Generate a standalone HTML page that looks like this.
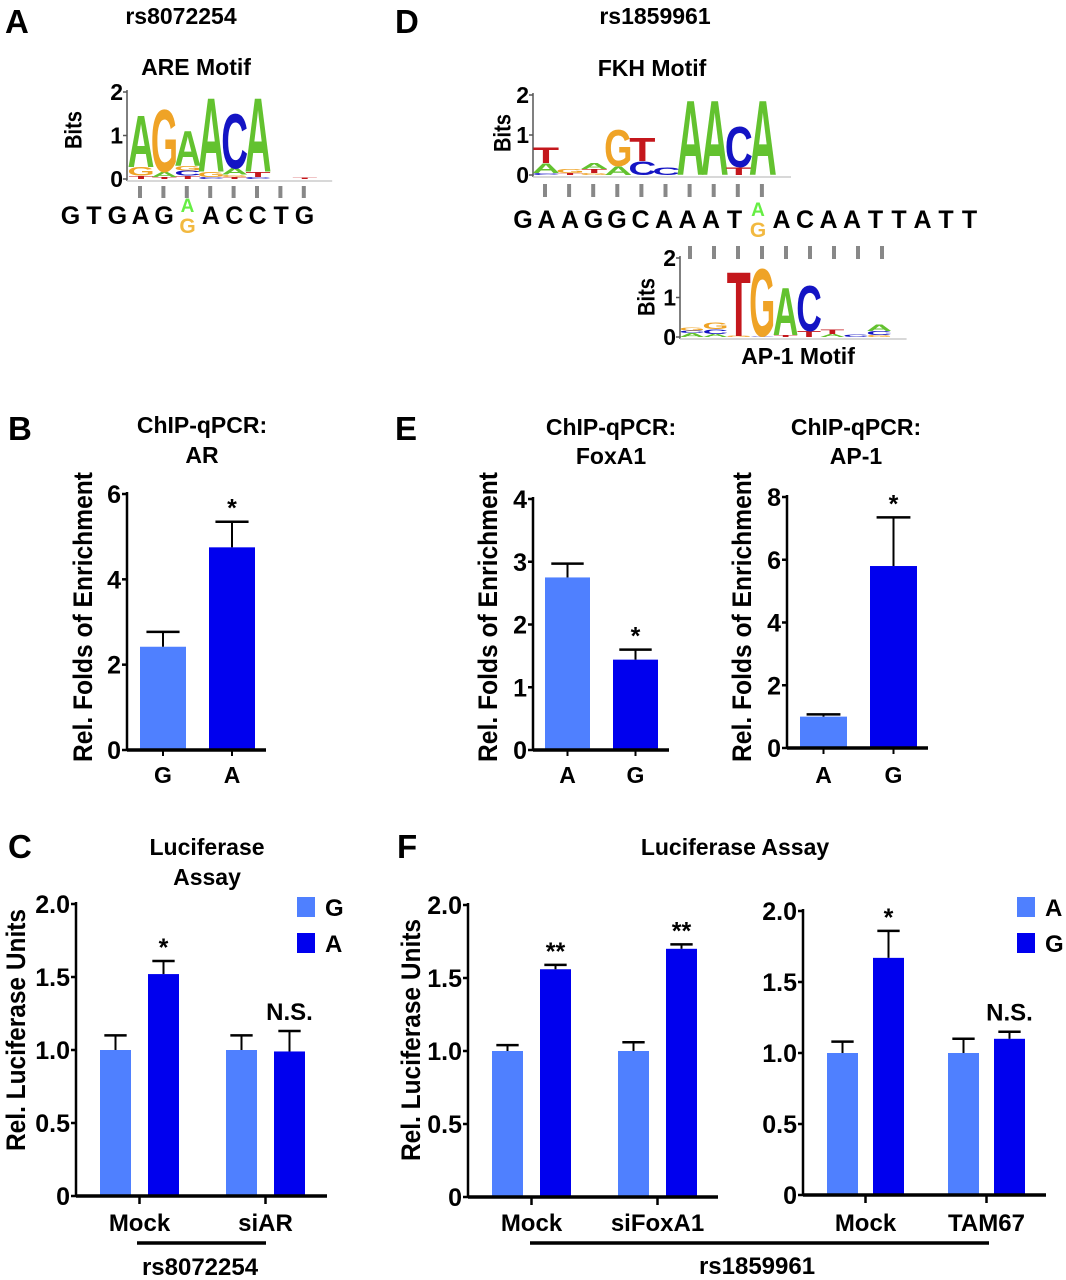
<!DOCTYPE html>
<html><head><meta charset="utf-8">
<style>
html,body{margin:0;padding:0;background:#fff;}
svg{display:block;font-family:"Liberation Sans",Arial,sans-serif;font-weight:bold;}
</style></head>
<body>
<svg id="fig" width="1066" height="1280" viewBox="0 0 1066 1280" xmlns="http://www.w3.org/2000/svg">
<g fill="#000" font-size="33">
<text x="5" y="33">A</text>
<text x="395" y="33">D</text>
<text x="8" y="440">B</text>
<text x="395" y="440">E</text>
<text x="8" y="858">C</text>
<text x="397" y="858">F</text>
</g>
<g font-size="23" text-anchor="middle">
<text x="181" y="24">rs8072254</text>
<text x="655" y="24">rs1859961</text>
<text x="196" y="75">ARE Motif</text>
<text x="652" y="76">FKH Motif</text>
<text x="798" y="364">AP-1 Motif</text>
<text x="202" y="433">ChIP-qPCR:</text>
<text x="202" y="463">AR</text>
<text x="611" y="435">ChIP-qPCR:</text>
<text x="611" y="464">FoxA1</text>
<text x="856" y="435">ChIP-qPCR:</text>
<text x="856" y="464">AP-1</text>
<text x="207" y="855">Luciferase</text>
<text x="207" y="885">Assay</text>
<text x="735" y="855">Luciferase Assay</text>
</g>
</svg>
<script>
// ---------- data ----------
const motifAre = [[['T',0.08],['G',0.2],['A',1.24]],[['T',0.05],['A',0.12],['G',1.5]],[['T',0.08],['C',0.12],['G',0.1],['A',0.84]],[['C',0.05],['G',0.12],['A',1.78]],[['T',0.05],['G',0.05],['A',0.15],['C',1.3]],[['C',0.05],['T',0.12],['A',1.78]],[],[['T',0.03]]];
const motifFkh = [[['C',0.05],['A',0.25],['T',0.4]],[['T',0.05],['G',0.1]],[['G',0.05],['T',0.1],['A',0.15]],[['A',0.22],['G',0.95]],[['C',0.35],['T',0.6]],[['C',0.2]],[['A',1.95]],[['A',1.95]],[['T',0.2],['C',1.05]],[['A',1.95]]];
const motifAp1 = [[['A',0.1],['C',0.06],['G',0.08]],[['A',0.08],['C',0.12],['G',0.17]],[['G',0.03],['T',1.7]],[['C',0.02],['G',1.78]],[['T',0.05],['A',1.25]],[['T',0.15],['C',1.2]],[['A',0.08],['T',0.12]],[['C',0.06]],[['G',0.05],['C',0.1],['A',0.17]]];
const seqA = ['G','T','G','A','G','*','A','C','C','T','G'];
const seqD = ['G','A','A','G','G','C','A','A','A','T','*','A','C','A','A','T','T','A','T','T'];

const catsB = ['G','A'];
const valsB = [2.42, 4.75];
const errsB = [0.35, 0.6];
const sigB = ['', '*'];
const ticksB = [0,2,4,6];

const catsFox = ['A','G'];
const valsFox = [2.75, 1.44];
const errsFox = [0.22, 0.16];
const sigFox = ['', '*'];
const ticksFox = [0,1,2,3,4];

const catsAp1 = ['A','G'];
const valsAp1 = [1.0, 5.8];
const errsAp1 = [0.07, 1.55];
const sigAp1 = ['', '*'];
const ticksAp1 = [0,2,4,6,8];

const groupsC = ['Mock','siAR'];
const seriesC = ['G','A'];
const valsC1 = [1.0, 1.0];
const valsC2 = [1.52, 0.99];
const errsC1 = [0.1, 0.1];
const errsC2 = [0.09, 0.14];
const sigC = ['*', 'N.S.'];

const groupsF1 = ['Mock','siFoxA1'];
const valsF1a = [1.0, 1.0];
const valsF1g = [1.56, 1.70];
const errsF1a = [0.04, 0.06];
const errsF1g = [0.03, 0.03];
const sigF1 = ['**', '**'];

const groupsF2 = ['Mock','TAM67'];
const seriesF = ['A','G'];
const valsF2a = [1.0, 1.0];
const valsF2g = [1.67, 1.10];
const errsF2a = [0.08, 0.1];
const errsF2g = [0.19, 0.05];
const sigF2 = ['*', 'N.S.'];

const lucTicks = [0,0.5,1.0,1.5,2.0];
const lucTickLabels = ['0','0.5','1.0','1.5','2.0'];

// ---------- helpers ----------
const NS = 'http://www.w3.org/2000/svg';
const svg = document.getElementById('fig');
const LIGHT = '#4f80ff', DARK = '#0000ee';
const COL = {A:'#63c22f', C:'#1414c4', G:'#efa326', T:'#c4171c'};
const ADV = {A:0.62, C:0.62, G:0.66, T:0.56};
function mk(tag, attrs, parent){ const e=document.createElementNS(NS,tag); for(const k in attrs) e.setAttribute(k,attrs[k]); (parent||svg).appendChild(e); return e; }
function txt(x,y,s,size,anchor,parent,fill){ const t=mk('text',{x:x,y:y,'font-size':size,'text-anchor':anchor||'middle',fill:fill||'#000'},parent); t.textContent=s; return t; }
function vlabel(cx,cy,s,size,len,parent){ const t=mk('text',{transform:`translate(${cx},${cy}) rotate(-90)`,'font-size':size,'text-anchor':'middle','dominant-baseline':'central',textLength:len,lengthAdjust:'spacingAndGlyphs'},parent); t.textContent=s; return t; }

function drawLogo(name, data, ax, y0, bitPx, c0, step, w){
  const g = mk('g',{});
  
  
  const yS = b => y0 - b*bitPx;
  mk('line',{x1:ax,y1:yS(2)-2,x2:ax,y2:y0+2,stroke:'#555','stroke-width':1.5},g);
  mk('line',{x1:ax,y1:y0+2,x2:c0+step*(data.length)+4,y2:y0+2,stroke:'#ccc','stroke-width':1.5},g);
  [0,1,2].forEach(b=>{ mk('line',{x1:ax-4,y1:yS(b),x2:ax,y2:yS(b),stroke:'#555','stroke-width':1.5},g); txt(ax-4,yS(b)+8,String(b),23,'end',g); });
  data.forEach((col,i)=>{
    let base=0; const cx=c0+step*i;
    col.forEach(([L,h])=>{
      const hp=h*bitPx, yb=yS(base);
      const sx=w/(ADV[L]*100), sy=hp/72.9;
      const t=mk('text',{transform:`translate(${cx},${yb}) scale(${sx},${sy})`,'font-size':100,'text-anchor':'middle',fill:COL[L]},g);
      t.textContent=L;
      base+=h;
    });
  });
  return g;
}
function drawTicks(xs, y1, y2, name){
  xs.forEach(x=>{ const l=mk('line',{x1:x,y1:y1,x2:x,y2:y2,stroke:'#888','stroke-width':4});
    
     });
}
function drawSeq(seq, x0, step, y, name){
  const g=mk('g',{});
  
  
  seq.forEach((s,i)=>{ const x=x0+step*i;
    if(s==='*'){ txt(x,y-12,'A',19,'middle',g,'#66ee44'); txt(x,y+9,'G',21,'middle',g,'#f2b940'); }
    else txt(x,y,s,25,'middle',g);
  });
}

// ---------- motifs ----------
drawLogo('are-motif-logo', motifAre, 127, 179, 43.5, 141, 23.4, 23);
vlabel(74,130,'Bits',24,38);
drawTicks([140,163.4,186.8,210.2,233.6,257,280.4,303.8], 186, 198, 'alignment-tick');
drawSeq(seqA, 70.5, 23.4, 224, 'sequence-rs8072254');

drawLogo('fkh-motif-logo', motifFkh, 533, 175, 40, 546, 24.1, 24);
vlabel(503,133,'Bits',24,38);
drawTicks(motifFkh.map((_,i)=>545+24.1*i), 184, 197, 'alignment-tick');
drawSeq(seqD, 523, 23.5, 228, 'sequence-rs1859961');
drawTicks(motifAp1.map((_,i)=>690+24*i), 246, 259, 'alignment-tick');
drawLogo('ap1-motif-logo', motifAp1, 680, 337, 39.5, 692, 23.4, 22);
vlabel(647,297,'Bits',24,38);

// ---------- bar charts ----------
function axisY(g, ax, y0, yTop, max, ticks, labels){
  const ys = v => y0 - (v/max)*(y0-yTop);
  mk('line',{x1:ax,y1:yTop-2,x2:ax,y2:y0,stroke:'#000','stroke-width':2.5},g);
  ticks.forEach((v,i)=>{ mk('line',{x1:ax-5,y1:ys(v),x2:ax,y2:ys(v),stroke:'#000','stroke-width':2.5},g);
    txt(ax-6,ys(v)+9,labels?labels[i]:String(v),25,'end',g); });
  return ys;
}
function bar(g, x, w, y0, ys, v, e, color, name){
  const r=mk('rect',{x:x,y:ys(v),width:w,height:y0-ys(v),fill:color},g);
  
  
  const cx=x+w/2, cw=w*0.36;
  mk('line',{x1:cx,y1:ys(v),x2:cx,y2:ys(v+e),stroke:'#000','stroke-width':2},g);
  mk('line',{x1:cx-cw,y1:ys(v+e),x2:cx+cw,y2:ys(v+e),stroke:'#000','stroke-width':2.5},g);
  return ys(v+e);
}
function sig(g, cx, top, s){
  if(!s) return;
  if(s.indexOf('*')>=0) txt(cx, top-5, s, 25, 'middle', g);
  else txt(cx, top-11, s, 24, 'middle', g);
}
function simpleChart(name, ax, y0, yTop, max, ticks, xEnd, left0, step, w, cats, vals, errs, sigs, ylx){
  const g=mk('g',{});
  
  
  const ys=axisY(g, ax, y0, yTop, max, ticks, null);
  cats.forEach((c,i)=>{
    const x=left0+step*i;
    const top=bar(g, x, w, y0, ys, vals[i], errs[i], i===0?LIGHT:DARK, 'bar-'+c);
    sig(g, x+w/2, top, sigs[i]);
    mk('line',{x1:x+w/2,y1:y0,x2:x+w/2,y2:y0+6,stroke:'#000','stroke-width':2},g);
    txt(x+w/2, 783, c, 23, 'middle', g);
  });
  mk('line',{x1:ax,y1:y0,x2:xEnd,y2:y0,stroke:'#000','stroke-width':3.5},g);
  vlabel(ylx, 617, 'Rel. Folds of Enrichment', 27, 290, g);
}
simpleChart('chart-b-ar', 127, 750, 494, 6, ticksB, 266, 140, 69, 46, catsB, valsB, errsB, sigB, 83);
simpleChart('chart-e-foxa1', 533, 750, 499, 4, ticksFox, 669, 545, 68, 45, catsFox, valsFox, errsFox, sigFox, 488);
simpleChart('chart-e-ap1', 787, 748, 497, 8, ticksAp1, 928, 800, 70, 47, catsAp1, valsAp1, errsAp1, sigAp1, 742);

function groupChart(name, ax, y0, yTop, xEnd, left0, gStep, sStep, w, groups, v1, v2, e1, e2, sigs){
  const g=mk('g',{});
  
  
  const ys=axisY(g, ax, y0, yTop, 2, lucTicks, lucTickLabels);
  groups.forEach((gr,i)=>{
    const x1=left0+gStep*i, x2=x1+sStep;
    bar(g, x1, w, y0, ys, v1[i], e1[i], LIGHT, 'bar-'+gr.toLowerCase()+'-s1');
    const top=bar(g, x2, w, y0, ys, v2[i], e2[i], DARK, 'bar-'+gr.toLowerCase()+'-s2');
    sig(g, x2+w/2, top, sigs[i]);
    const tx=(x1+x2+w)/2;
    mk('line',{x1:tx,y1:y0,x2:tx,y2:y0+8,stroke:'#000','stroke-width':2.5},g);
    txt(tx, 1231, gr, 24, 'middle', g);
  });
  mk('line',{x1:ax,y1:y0,x2:xEnd,y2:y0,stroke:'#000','stroke-width':3.5},g);
  return g;
}
const gC=groupChart('chart-c-luciferase', 76, 1196, 904, 327, 100, 126, 48, 31, groupsC, valsC1, valsC2, errsC1, errsC2, sigC);
vlabel(16, 1030, 'Rel. Luciferase Units', 27, 242, gC);
const gF1=groupChart('chart-f-luciferase-foxa1', 468, 1197, 905, 718, 492, 126, 48, 31, groupsF1, valsF1a, valsF1g, errsF1a, errsF1g, sigF1);
vlabel(411, 1040, 'Rel. Luciferase Units', 27, 242, gF1);
groupChart('chart-f-luciferase-tam67', 803, 1195, 911, 1046, 827, 121, 46, 31, groupsF2, valsF2a, valsF2g, errsF2a, errsF2g, sigF2);

// legends
function legend(name, x, y, labels){
  const g=mk('g',{});
  
  
  labels.forEach((l,i)=>{
    mk('rect',{x:x,y:y+i*36,width:18,height:20,fill:i===0?LIGHT:DARK},g);
    txt(x+28, y+i*36+19, l, 24, 'start', g);
  });
}
legend('legend-c', 297, 897, seriesC);
legend('legend-f', 1017, 897, seriesF);

// bottom group labels
mk('line',{x1:137,y1:1243,x2:266,y2:1243,stroke:'#000','stroke-width':3.5});
txt(200, 1275, 'rs8072254', 24, 'middle');
mk('line',{x1:530,y1:1243,x2:989,y2:1243,stroke:'#000','stroke-width':3.5});
txt(757, 1274, 'rs1859961', 24, 'middle');
</script>
</body></html>
